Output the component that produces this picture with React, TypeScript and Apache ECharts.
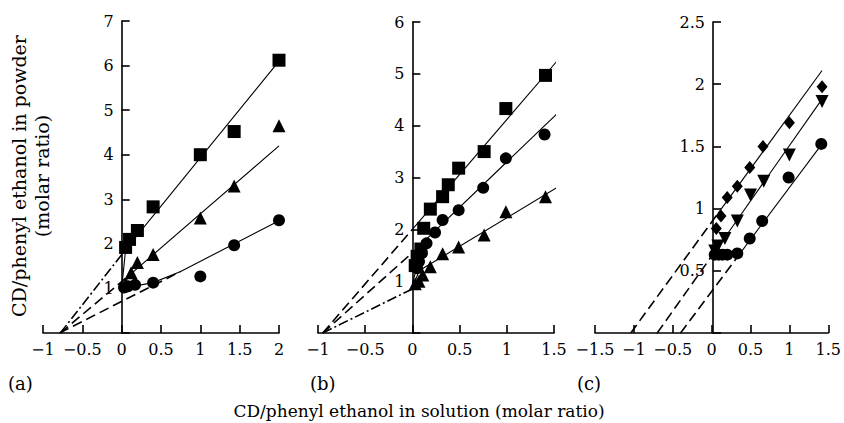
import React, { useEffect, useRef } from "react";
import * as echarts from "echarts";

// ---------- Panel (a) ----------
const aSquareX = [0.05, 0.1, 0.2, 0.4, 1.0, 1.43, 2.0];
const aSquareY = [1.92, 2.1, 2.3, 2.83, 4.0, 4.52, 6.12];
const aTriX = [0.05, 0.12, 0.2, 0.4, 1.0, 1.43, 2.0];
const aTriY = [1.1, 1.35, 1.58, 1.76, 2.58, 3.3, 4.65];
const aCircX = [0.03, 0.08, 0.17, 0.4, 1.0, 1.43, 2.0];
const aCircY = [1.02, 1.05, 1.08, 1.13, 1.27, 1.97, 2.53];
const aSquareFit = [[0, 1.0], [0.05, 1.87], [2, 6.1]];
const aSquareExt = [[-0.78, 0], [0.05, 1.87]];
const aTriFit = [[0, 1.0], [0.1, 1.3], [2, 4.2]];
const aTriExt = [[-0.78, 0], [0.1, 1.3]];
const aCircFit = [[0, 1.0], [0.4, 1.13], [0.75, 1.38], [2, 2.52]];
const aCircExt = [[-0.79, 0], [0.75, 1.38]];

// ---------- Panel (b) ----------
const bSquareX = [0.03, 0.05, 0.09, 0.12, 0.19, 0.32, 0.38, 0.49, 0.76, 0.99, 1.41];
const bSquareY = [1.3, 1.48, 1.62, 2.02, 2.39, 2.63, 2.86, 3.18, 3.5, 4.33, 4.97];
const bCircX = [0.05, 0.07, 0.1, 0.15, 0.24, 0.32, 0.49, 0.75, 0.99, 1.4];
const bCircY = [1.25, 1.38, 1.54, 1.73, 1.94, 2.18, 2.37, 2.8, 3.37, 3.83];
const bTriX = [0.03, 0.07, 0.11, 0.19, 0.32, 0.49, 0.76, 0.99, 1.41];
const bTriY = [0.95, 1.0, 1.12, 1.28, 1.53, 1.66, 1.89, 2.34, 2.63];
const bSquareFit = [[0, 2.0], [1.6, 5.39]];
const bSquareExt = [[-0.95, 0], [0, 2.0]];
const bSquareLink = [[0, 0.95], [0.08, 1.5]];
const bCircFit = [[0, 1.55], [1.6, 4.35]];
const bCircExt = [[-0.95, 0], [0, 1.55]];
const bTriFit = [[0, 0.85], [0.07, 1.2], [1.6, 2.88]];
const bTriExt = [[-0.95, 0], [0, 0.85]];

// ---------- Panel (c) ----------
const cDiaX = [0.06, 0.12, 0.2, 0.33, 0.49, 0.66, 1.0, 1.42];
const cDiaY = [0.84, 0.94, 1.09, 1.18, 1.33, 1.5, 1.69, 1.98];
const cInvX = [0.04, 0.08, 0.17, 0.33, 0.5, 0.67, 1.0, 1.42];
const cInvY = [0.66, 0.7, 0.76, 0.9, 1.11, 1.22, 1.43, 1.86];
const cCircX = [0.04, 0.09, 0.14, 0.2, 0.33, 0.49, 0.65, 0.99, 1.41];
const cCircY = [0.63, 0.63, 0.63, 0.63, 0.64, 0.76, 0.9, 1.25, 1.52];
const cDiaFit = [[0.08, 0.96], [1.42, 2.11]];
const cDiaExt = [[-1.04, 0], [0.08, 0.96]];
const cInvFit = [[0.15, 0.75], [1.42, 1.88]];
const cInvExt = [[-0.7, 0], [0.15, 0.75]];
const cCircFit = [[0.33, 0.61], [1.42, 1.52]];
const cCircExt = [[-0.4, 0], [0.33, 0.61]];

// ---------- Axes ----------
const xRanges = [
  [-1, 2],
  [-1, 1.5],
  [-1.5, 1.5],
];
const yRanges = [
  [0, 7, 1],
  [0, 6, 1],
  [0, 2.5, 0.5],
];
const panelLabels = ["(a)", "(b)", "(c)"];
const xTitle = "CD/phenyl ethanol in solution (molar ratio)";
const yTitle1 = "CD/phenyl ethanol in powder";
const yTitle2 = "(molar ratio)";

const FONT = "'DejaVu Serif', serif";
const zip = (xs: number[], ys: number[]) => xs.map((x, i) => [x, ys[i]]);
const fmt = (v: number) => (v < 0 ? "\u2212" + String(Math.abs(v)) : String(v));

export default function App() {
  const ref = useRef<HTMLDivElement>(null);
  useEffect(() => {
    if (!ref.current) return;
    const chart = echarts.init(ref.current, undefined, { renderer: "svg" });
    const grids = [
      { left: 43, top: 21, width: 236, height: 312 },
      { left: 318, top: 22, width: 236, height: 311 },
      { left: 595, top: 22, width: 236, height: 311 },
    ];
    const axisLineStyle = { color: "#000", width: 1.6 };
    const xAxis = xRanges.map((r, i) => ({
      gridIndex: i,
      type: "value",
      min: r[0],
      max: r[1],
      interval: 0.5,
      axisLine: { show: true, onZero: false, lineStyle: axisLineStyle },
      axisTick: { show: true, inside: true, length: 8, lineStyle: axisLineStyle },
      axisLabel: {
        color: "#000",
        fontFamily: FONT,
        fontSize: 16,
        margin: 8,
        showMinLabel: true,
        showMaxLabel: true,
        formatter: (v: number) => fmt(v),
      },
      splitLine: { show: false },
    }));
    // y axis sits at x = 0: shift it right from the grid's left edge
    const yAxis = yRanges.map((r, i) => {
      const xr = xRanges[i];
      const shift = ((0 - xr[0]) / (xr[1] - xr[0])) * grids[i].width;
      return {
        gridIndex: i,
        type: "value",
        position: "left",
        offset: -shift,
        min: r[0],
        max: r[1],
        interval: r[2],
        axisLine: { show: true, onZero: false, lineStyle: axisLineStyle },
        axisTick: { show: true, inside: true, length: 8, lineStyle: axisLineStyle },
        axisLabel: {
          color: "#000",
          fontFamily: FONT,
          fontSize: 16,
          margin: 8,
          showMinLabel: true,
          showMaxLabel: true,
          formatter: (v: number) => (v === 0 ? "" : fmt(v)),
        },
        splitLine: { show: false },
      };
    });

    const DASH = [10, 5];
    const DASHDOT = [10, 3, 2, 3];
    const line = (data: number[][], idx: number, type: any, width = 1.1) => ({
      type: "line",
      xAxisIndex: idx,
      yAxisIndex: idx,
      data,
      symbol: "none",
      showSymbol: false,
      silent: true,
      z: 2,
      lineStyle: { color: "#000", width, type },
    });
    const pts = (
      xs: number[],
      ys: number[],
      idx: number,
      symbol: string,
      size: any,
      rotate = 0
    ) => ({
      type: "scatter",
      xAxisIndex: idx,
      yAxisIndex: idx,
      data: zip(xs, ys),
      symbol,
      symbolSize: size,
      symbolRotate: rotate,
      silent: true,
      z: 3,
      itemStyle: { color: "#000", opacity: 1 },
    });

    const series = [
      // (a)
      line(aSquareFit, 0, "solid"),
      line(aSquareExt, 0, DASHDOT, 1.6),
      line(aTriFit, 0, "solid"),
      line(aTriExt, 0, DASH, 1.6),
      line(aCircFit, 0, "solid"),
      line(aCircExt, 0, DASH, 1.6),
      pts(aSquareX, aSquareY, 0, "rect", 13),
      pts(aTriX, aTriY, 0, "triangle", 13),
      pts(aCircX, aCircY, 0, "circle", 12),
      // (b)
      line(bSquareFit, 1, "solid"),
      line(bSquareExt, 1, DASH, 1.6),
      line(bSquareLink, 1, "solid"),
      line(bCircFit, 1, "solid"),
      line(bCircExt, 1, DASH, 1.6),
      line(bTriFit, 1, "solid"),
      line(bTriExt, 1, DASHDOT, 1.6),
      pts(bSquareX, bSquareY, 1, "rect", 13),
      pts(bCircX, bCircY, 1, "circle", 12),
      pts(bTriX, bTriY, 1, "triangle", 13),
      // (c)
      line(cDiaFit, 2, "solid"),
      line(cDiaExt, 2, DASH, 1.6),
      line(cInvFit, 2, "solid"),
      line(cInvExt, 2, DASH, 1.6),
      line(cCircFit, 2, "solid"),
      line(cCircExt, 2, DASH, 1.6),
      pts(cDiaX, cDiaY, 2, "diamond", [11, 13]),
      pts(cInvX, cInvY, 2, "triangle", 13, 180),
      pts(cCircX, cCircY, 2, "circle", 12),
    ];

    const labelPos = [20, 322, 589];
    const graphic: any[] = [
      ...panelLabels.map((t, i) => ({
        type: "text",
        left: labelPos[i] - 12,
        top: 374,
        style: { text: t, font: `18px ${FONT}`, fill: "#000" },
      })),
      {
        type: "text",
        x: 419,
        y: 411,
        style: {
          text: xTitle,
          font: `17px ${FONT}`,
          fill: "#000",
          textAlign: "center",
          textVerticalAlign: "middle",
        },
      },
      {
        type: "text",
        x: 19,
        y: 176,
        rotation: Math.PI / 2,
        style: {
          text: yTitle1,
          font: `19px ${FONT}`,
          fill: "#000",
          textAlign: "center",
          textVerticalAlign: "middle",
        },
      },
      {
        type: "text",
        x: 42,
        y: 176,
        rotation: Math.PI / 2,
        style: {
          text: yTitle2,
          font: `19px ${FONT}`,
          fill: "#000",
          textAlign: "center",
          textVerticalAlign: "middle",
        },
      },
    ];

    chart.setOption({
      animation: false,
      backgroundColor: "#fff",
      textStyle: { fontFamily: FONT },
      grid: grids,
      xAxis,
      yAxis,
      series,
      graphic,
    } as any);
    return () => chart.dispose();
  }, []);
  return (
    <div
      ref={ref}
      style={{ position: "fixed", left: 0, top: 0, width: 844, height: 423, background: "#fff" }}
    />
  );
}
